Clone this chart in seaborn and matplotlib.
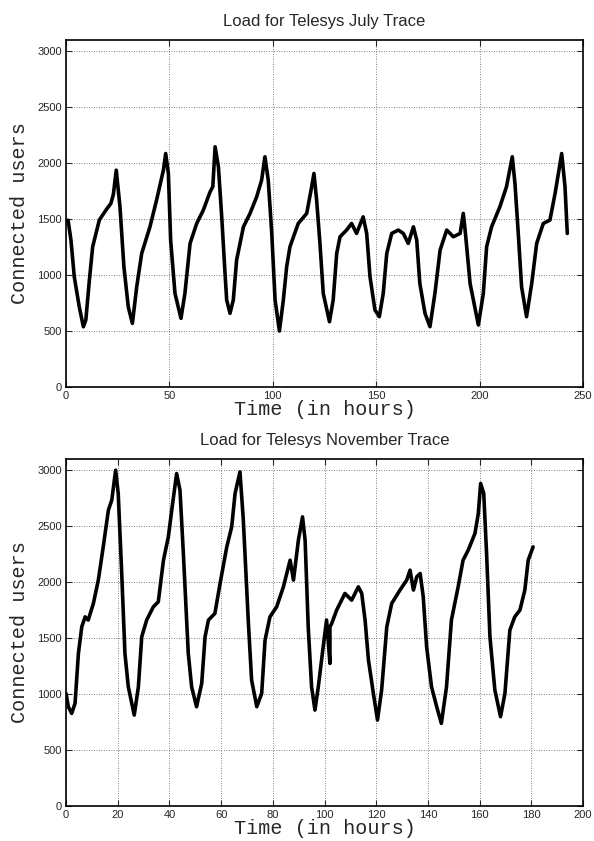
import matplotlib
matplotlib.use("Agg")
import matplotlib.pyplot as plt
import seaborn as sns
import pandas as pd

# July trace (hours, connected users)
july_hours = [0, 1.0, 2.4, 4.0, 6.4, 8.4, 9.6, 11.3, 12.9, 16.1, 19.3, 21.7, 22.9, 24.3, 26.1,
              28.0, 30.1, 32.1, 34.2, 36.6, 40.6, 43.8, 47.1, 48.2, 49.5, 50.6, 52.7, 55.6,
              57.5, 60.0, 63.2, 66.4, 69.6, 71.0, 72.1, 73.7, 75.3, 76.9, 77.7, 79.3, 80.9,
              82.5, 85.8, 89.0, 92.2, 94.6, 96.2, 97.8, 99.5, 101.1, 103.2, 105.1, 106.7,
              108.3, 112.3, 116.4, 118.8, 119.9, 121.2, 122.8, 124.4, 127.4, 129.2, 130.9,
              132.5, 135.7, 138.1, 140.5, 143.7, 145.4, 147.0, 149.4, 151.5, 153.4, 155.1,
              157.5, 160.7, 163.1, 165.5, 168.0, 169.6, 171.1, 173.6, 176.0, 178.4, 180.9,
              184.1, 187.3, 190.6, 192.1, 193.0, 195.4, 199.4, 201.8, 203.4, 205.8, 209.8,
              213.0, 215.8, 217.1, 218.7, 220.3, 222.7, 225.2, 227.6, 230.8, 234.0, 236.5,
              239.7, 241.3, 242.4]
july_users = [1480, 1490, 1312, 985, 717, 538, 600, 955, 1253, 1491, 1580, 1640, 1720, 1937,
              1610, 1074, 717, 568, 896, 1193, 1431, 1670, 1937, 2086, 1908, 1312, 836, 613,
              836, 1283, 1461, 1580, 1740, 1790, 2146, 1967, 1520, 1015, 777, 658, 777, 1134,
              1431, 1551, 1699, 1848, 2057, 1848, 1372, 777, 500, 777, 1074, 1253, 1461, 1551,
              1789, 1908, 1670, 1283, 836, 583, 777, 1193, 1342, 1402, 1461, 1372, 1520, 1372,
              985, 688, 628, 836, 1193, 1372, 1402, 1372, 1283, 1431, 1312, 925, 658, 539, 836,
              1223, 1402, 1342, 1372, 1551, 1402, 925, 554, 836, 1253, 1431, 1610, 1789, 2057,
              1818, 1372, 896, 628, 925, 1283, 1461, 1491, 1729, 2086, 1789, 1372]

# November trace
nov_hours = [0, 0.9, 2.2, 3.5, 4.8, 6.1, 7.4, 8.6, 10.6, 12.5, 14.4, 16.4, 17.7, 19.2, 20.2,
             21.5, 22.8, 24.1, 26.4, 28.0, 29.3, 31.2, 33.8, 35.7, 37.7, 39.6, 40.9, 42.8,
             44.1, 45.4, 47.3, 48.6, 50.5, 52.5, 53.8, 55.1, 57.6, 59.6, 62.2, 64.1, 65.4,
             67.3, 68.6, 70.5, 71.8, 73.8, 75.7, 77.0, 78.9, 81.5, 84.1, 86.7, 88.0, 89.9,
             91.5, 92.5, 93.7, 95.0, 96.3, 97.6, 99.5, 100.8, 102.1, 102.1, 102.8, 104.7,
             107.9, 110.5, 113.1, 114.4, 115.7, 117.0, 118.9, 120.5, 122.1, 124.1, 126.0,
             129.2, 131.8, 133.1, 134.4, 135.7, 137.0, 138.2, 139.5, 141.4, 143.4, 145.2,
             147.2, 149.1, 151.7, 153.6, 155.6, 158.2, 159.5, 160.4, 161.6, 162.7, 164.0,
             165.9, 168.1, 169.8, 171.7, 173.6, 175.6, 177.5, 178.8, 180.7]
nov_users = [1006, 887, 827, 917, 1363, 1601, 1690, 1661, 1810, 2018, 2315, 2643, 2732, 3000,
             2792, 2107, 1363, 1065, 812, 1065, 1512, 1661, 1780, 1824, 2196, 2405, 2643, 2970,
             2821, 2256, 1363, 1065, 887, 1095, 1512, 1661, 1720, 1988, 2315, 2494, 2792, 2985,
             2554, 1661, 1125, 887, 1006, 1482, 1690, 1780, 1958, 2196, 2018, 2375, 2583, 2375,
             1601, 1065, 857, 1065, 1423, 1661, 1274, 1600, 1631, 1750, 1899, 1839, 1958, 1899,
             1661, 1304, 1006, 768, 1036, 1601, 1810, 1929, 2018, 2107, 1929, 2048, 2077, 1869,
             1423, 1065, 887, 738, 1065, 1661, 1958, 2196, 2286, 2435, 2613, 2881, 2792, 2256,
             1512, 1036, 798, 1006, 1571, 1690, 1750, 1929, 2196, 2315]

titles = ["Load for Telesys July Trace", "Load for Telesys November Trace"]
xlabel = "Time (in hours)"
ylabel = "Connected users"
july_xticks = [0, 50, 100, 150, 200, 250]
nov_xticks = [0, 20, 40, 60, 80, 100, 120, 140, 160, 180, 200]
yticks = [0, 500, 1000, 1500, 2000, 2500, 3000]

sns.set_style("ticks")
plt.rcParams["font.family"] = ["Liberation Sans", "DejaVu Sans"]

fig = plt.figure(figsize=(5.94, 8.41), dpi=100)
W, H = 594, 841
ax1 = fig.add_axes([66 / W, 1 - 387 / H, 517 / W, 347 / H])
ax2 = fig.add_axes([66 / W, 1 - 806 / H, 517 / W, 347 / H])

df1 = pd.DataFrame({"hours": july_hours, "users": july_users})
df2 = pd.DataFrame({"hours": nov_hours, "users": nov_users})

for ax, df, title, xt, xmax in [(ax1, df1, titles[0], july_xticks, 250),
                                (ax2, df2, titles[1], nov_xticks, 200)]:
    sns.lineplot(data=df, x="hours", y="users", ax=ax, color="black", linewidth=2.6,
                 sort=False, estimator=None)
    ax.set_xlim(0, xmax)
    ax.set_ylim(0, 3100)
    ax.set_xticks(xt)
    ax.set_yticks(yticks)
    ax.grid(True, color="#555555", linestyle=(0, (1, 2)), linewidth=0.6)
    ax.tick_params(direction="in", top=True, right=True, labelsize=8, length=4, width=0.8,
                   pad=3)
    for s in ax.spines.values():
        s.set_visible(True)
        s.set_linewidth(1.2)
        s.set_color("black")
    ax.set_title(title, fontsize=12, pad=10)
    ax.set_xlabel(xlabel, family="Liberation Mono", fontsize=14.5, labelpad=-1)
    ax.set_ylabel(ylabel, family="Liberation Mono", fontsize=14.5, labelpad=6)

fig.savefig("out.png", dpi=100)
